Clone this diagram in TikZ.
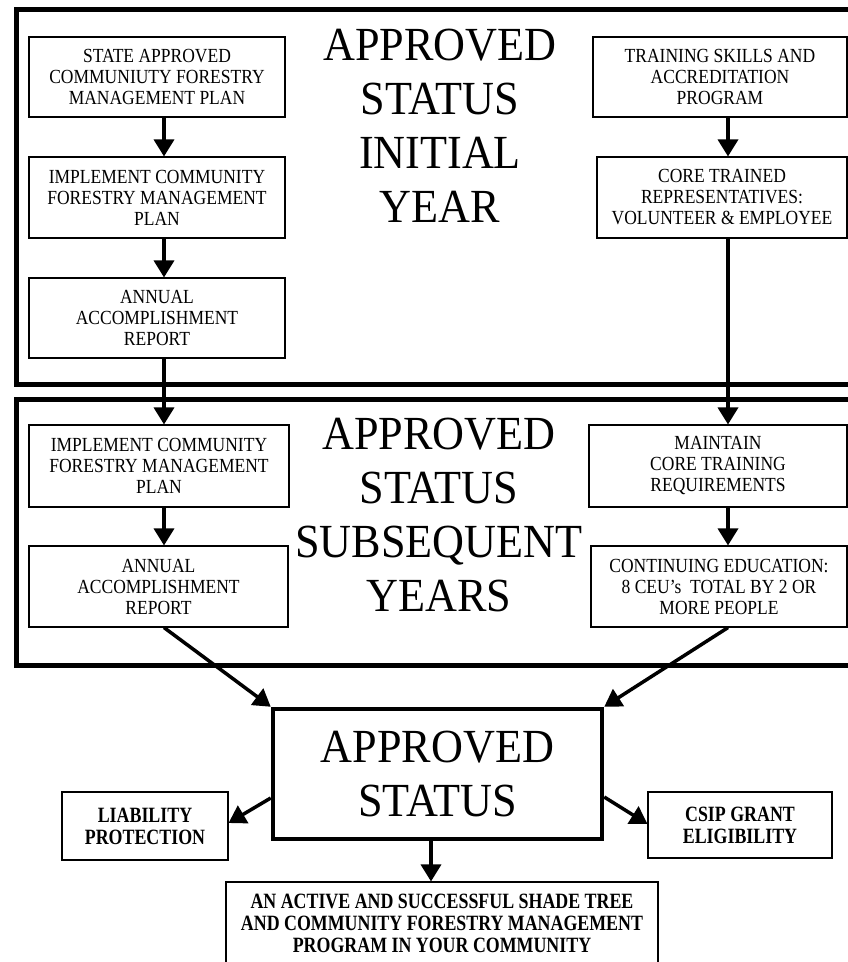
\documentclass[tikz,border=0pt]{standalone}
\usepackage{fontspec}
\setmainfont{Liberation Serif}
\newfontfamily\boxserif[FakeStretch=0.875]{Liberation Serif}
\newfontfamily\headserif[FakeStretch=0.93]{Liberation Serif}
\newfontfamily\narrowserif[FakeStretch=0.82]{Liberation Serif}
\usetikzlibrary{arrows.meta}
\tikzset{
    stagebox/.style={draw,line width=1.1pt,minimum width=#1,minimum height=81pt,inner sep=0pt,align=center,
        font=\boxserif\fontsize{20}{21}\selectfont},
    outcomebox/.style={draw,line width=1.1pt,inner sep=0pt,align=center,
        font=\narrowserif\bfseries\fontsize{21.8}{22}\selectfont},
    heading/.style={inner sep=0pt,align=center,anchor=north,
        font=\headserif\fontsize{47.5}{54}\selectfont},
    statusbox/.style={draw,line width=4.5pt,minimum width=329pt,minimum height=130pt,inner sep=0pt,align=center,
        font=\headserif\fontsize{47.5}{54}\selectfont},
    frame/.style={line width=5pt},
    flow/.style={line width=3.5pt,-{Triangle[width=20pt,length=17pt]}},
}

\begin{document}
\begin{tikzpicture}[x=1pt,y=-1pt]
\useasboundingbox (0,0) rectangle (848,962);
\draw[frame] (16,9.5) rectangle (875,384);
\draw[frame] (16.5,399) rectangle (875,665);
\coordinate (lcol) at (164,0);
\coordinate (rcol) at (728,0);
\coordinate (mcol) at (431,0);
\node[heading] (initial) at (440,29) {APPROVED\\STATUS\\INITIAL\\YEAR};
\node[heading] (subseq) at (439,418) {APPROVED\\STATUS\\SUBSEQUENT\\YEARS};
\node[stagebox=256pt,minimum height=80pt] (sapp) at (157,77) {STATE APPROVED\\COMMUNIUTY FORESTRY\\MANAGEMENT PLAN};
\node[stagebox=256pt] (implone) at (157,197.5) {IMPLEMENT COMMUNITY\\FORESTRY MANAGEMENT\\PLAN};
\node[stagebox=256pt,minimum height=80pt] (reportone) at (157,318) {ANNUAL\\ACCOMPLISHMENT\\REPORT};
\node[stagebox=254pt,minimum height=80pt] (train) at (720,77) {TRAINING SKILLS AND\\ACCREDITATION\\PROGRAM};
\node[stagebox=250pt] (core) at (722,197.5) {CORE TRAINED\\REPRESENTATIVES:\\VOLUNTEER \& EMPLOYEE};
\node[stagebox=260pt,minimum height=82pt] (impltwo) at (159,466) {IMPLEMENT COMMUNITY\\FORESTRY MANAGEMENT\\PLAN};
\node[stagebox=259pt] (reporttwo) at (158.5,586.5) {ANNUAL\\ACCOMPLISHMENT\\REPORT};
\node[stagebox=258pt,minimum height=82pt] (maint) at (718,466) {MAINTAIN\\CORE TRAINING\\REQUIREMENTS};
\node[stagebox=256pt] (ceu) at (719,586.5) {CONTINUING EDUCATION:\\8 CEU’s\ \ TOTAL BY 2 OR\\MORE PEOPLE};
\node[statusbox] (status) at (437.5,774) {APPROVED\\STATUS};
\node[outcomebox,minimum width=166pt,minimum height=68pt] (liab) at (145,826) {LIABILITY\\PROTECTION};
\node[outcomebox,minimum width=184pt,minimum height=66pt] (csip) at (740,825) {CSIP GRANT\\ELIGIBILITY};
\node[outcomebox,minimum width=432pt,minimum height=82pt] (active) at (442,923) {AN ACTIVE AND SUCCESSFUL SHADE TREE\\AND COMMUNITY FORESTRY MANAGEMENT\\PROGRAM IN YOUR COMMUNITY};
\draw[flow] (sapp.south -| lcol) -- (implone.north -| lcol);
\draw[flow] (implone.south -| lcol) -- (reportone.north -| lcol);
\draw[flow] (reportone.south -| lcol) -- (impltwo.north -| lcol);
\draw[flow] (impltwo.south -| lcol) -- (reporttwo.north -| lcol);
\draw[flow] (train.south -| rcol) -- (core.north -| rcol);
\draw[flow] (core.south -| rcol) -- (maint.north -| rcol);
\draw[flow] (maint.south -| rcol) -- (ceu.north -| rcol);
\draw[flow] (reporttwo.south -| lcol) -- (status.north west);
\draw[flow] (ceu.south -| rcol) -- (status.north east);
\draw[flow] ([yshift=-24pt]status.west) -- ([yshift=3pt]liab.east);
\draw[flow] ([yshift=-23pt]status.east) -- ([yshift=1pt]csip.west);
\draw[flow] (status.south -| mcol) -- (active.north -| mcol);
\end{tikzpicture}
\end{document}
